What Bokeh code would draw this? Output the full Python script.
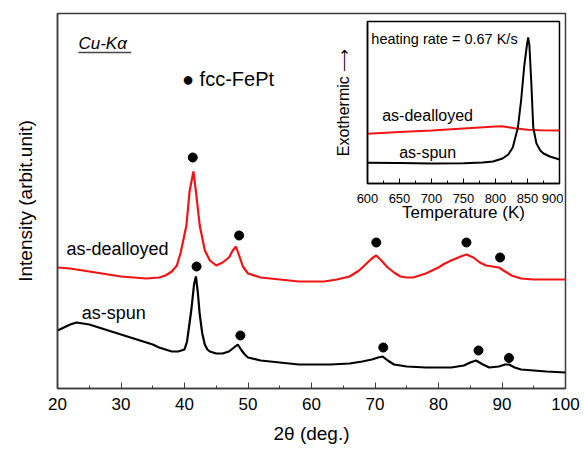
from bokeh.plotting import figure
from bokeh.models import Range1d, Label, SingleIntervalTicker, FixedTicker
from bokeh.layouts import column
from bokeh.embed import file_html
from bokeh.resources import INLINE

FONT = "Liberation Sans"

# ---- XRD data (main panel), intensity in arbitrary units ----
two_theta_spun = [20, 21, 22, 23, 24, 25, 26, 27, 28, 29, 30, 31, 32, 33, 34, 35, 36, 37, 38, 39,
                  40, 40.4, 40.7, 41.1, 41.5, 41.8, 42.1, 42.4, 42.8, 43.2, 43.6, 44, 45, 46, 47,
                  47.8, 48.4, 49, 49.5, 50, 52, 55, 58, 60, 63, 66, 68, 69.5, 70.5, 71.2, 72, 73,
                  75, 78, 80, 82, 84, 85, 85.9, 87, 88, 89.5, 90.5, 91.1, 92, 93, 95, 97, 100]
intensity_spun = [58, 61, 64, 66, 65, 64, 62, 60, 58, 56, 54, 52, 50, 48, 46, 44, 41, 39, 37, 37,
                  39, 47, 61, 80, 104, 112, 96, 74, 55, 44, 39, 37, 35, 35, 37,
                  41, 44, 38, 34, 31, 28, 26, 24, 24, 24, 25, 27, 29, 31, 32, 28, 24,
                  22, 21, 21, 21, 23, 26, 28, 24, 21, 22, 24, 24, 21, 19, 18, 17, 16]

two_theta_deal = [20, 22, 24, 26, 28, 30, 32, 34, 36, 37, 38, 38.8, 39.4, 40.3, 40.8, 41.4, 41.8,
                  42.4, 43.2, 44, 45, 46, 47, 47.6, 48.1, 48.6, 49.2, 50, 52, 55, 58, 60, 62, 64,
                  66, 67.5, 68.5, 69.5, 70.2, 71, 72, 73, 74, 75, 76, 77, 78, 79, 80, 81, 82, 83.5,
                  84.4, 85.5, 86.5, 87.5, 88.5, 89.5, 90.5, 91.5, 93, 95, 100]
intensity_deal = [121, 120, 118, 116, 114, 112, 111, 110, 111, 113, 117, 123, 136, 163, 197, 217, 197,
                  163, 138, 128, 123, 126, 131, 138, 142, 133, 122, 115, 111, 109, 107, 107, 107, 109,
                  112, 118, 124, 130, 133, 128, 121, 116, 112, 111, 111, 113, 115, 118, 121, 125, 128, 132,
                  134, 131, 126, 123, 122, 121, 117, 113, 110, 109, 109]

peaks_deal_x = [41.3, 48.6, 70.2, 84.4, 89.7]
peaks_deal_y = [231, 153, 146, 146, 131]
peaks_spun_x = [41.9, 48.8, 71.3, 86.3, 91.1]
peaks_spun_y = [122, 53, 41, 38, 30.5]

# ---- DSC data (inset) ----
temp_spun = [600, 650, 700, 750, 780, 796, 811, 820, 827, 835, 840, 845, 849, 851, 853, 856, 859,
             864, 870, 875, 885, 900]
dsc_spun = [20.7, 20.5, 20, 20.3, 21, 22, 25, 29, 36, 56, 83, 118, 138, 146, 138, 100, 56,
            40, 33, 30, 27, 24]
temp_deal = [600, 650, 700, 750, 800, 810, 830, 850, 870, 900]
dsc_deal = [49.7, 51.5, 53, 55, 57, 57.3, 55.3, 53.7, 53.3, 53]

RED = "#f01414"

# ================= main figure =================
p = figure(frame_width=508, frame_height=375, x_range=Range1d(20, 100), y_range=Range1d(0, 375),
           output_backend="svg", toolbar_location=None,
           min_border_left=57, min_border_right=19, min_border_top=13, min_border_bottom=62)
p.grid.visible = False
p.background_fill_color = "white"
p.border_fill_color = "white"
p.outline_line_color = "#3c3c3c"
p.outline_line_width = 1.5

xa = p.xaxis[0]
xa.ticker = SingleIntervalTicker(interval=10, num_minor_ticks=2)
xa.major_tick_in = 6
xa.major_tick_out = 0
xa.minor_tick_in = 3
xa.minor_tick_out = 0
xa.axis_line_color = "#3c3c3c"
xa.axis_line_width = 1.5
xa.major_tick_line_color = "#3c3c3c"
xa.minor_tick_line_color = "#3c3c3c"
xa.major_label_text_font = FONT
xa.major_label_text_font_size = "17px"
xa.major_label_text_color = "black"
xa.major_label_standoff = 9
xa.axis_label = "2θ (deg.)"
xa.axis_label_text_font = FONT
xa.axis_label_text_font_size = "19px"
xa.axis_label_text_font_style = "normal"
xa.axis_label_text_color = "black"
xa.axis_label_standoff = 10

ya = p.yaxis[0]
ya.ticker = FixedTicker(ticks=[])
ya.major_label_text_font_size = "0px"
ya.major_label_standoff = 0
ya.major_tick_in = 0
ya.major_tick_out = 0
ya.minor_tick_in = 0
ya.minor_tick_out = 0
ya.axis_line_color = "#3c3c3c"
ya.axis_line_width = 1.5
ya.axis_label = "Intensity (arbit.unit)"
ya.axis_label_text_font = FONT
ya.axis_label_text_font_size = "19px"
ya.axis_label_text_font_style = "normal"
ya.axis_label_text_color = "black"
ya.axis_label_standoff = 22

p.line(two_theta_deal, intensity_deal, line_color=RED, line_width=2.2)
p.line(two_theta_spun, intensity_spun, line_color="black", line_width=2.2)
p.scatter(peaks_deal_x, peaks_deal_y, size=9, color="black")
p.scatter(peaks_spun_x, peaks_spun_y, size=9, color="black")

def lab(fig, x, y, text, size, style="normal", align="left"):
    fig.add_layout(Label(x=x, y=y, text=text, text_font=FONT, text_font_size=size,
                         text_font_style=style, text_baseline="middle", text_align=align,
                         text_color="black"))

lab(p, 21.4, 140, "as-dealloyed", "18px")
lab(p, 23.8, 76, "as-spun", "18px")
lab(p, 23.3, 345, "Cu-Kα", "17px", style="italic")
p.segment(x0=[23.3], y0=[336], x1=[31.6], y1=[336], line_color="#444444", line_width=1.5)
lab(p, 39.6, 310, "● fcc-FePt", "20px")

# ================= inset =================
q = figure(frame_width=192, frame_height=162, x_range=Range1d(600, 900), y_range=Range1d(0, 162),
           output_backend="svg", toolbar_location=None,
           min_border_left=41, min_border_right=20, min_border_top=21, min_border_bottom=47,
           margin=(-450, 0, 0, 310))
q.grid.visible = False
q.background_fill_color = "white"
q.border_fill_color = None
q.outline_line_color = "black"
q.outline_line_width = 1.5

qx = q.xaxis[0]
qx.ticker = SingleIntervalTicker(interval=50, num_minor_ticks=2)
qx.major_tick_in = 5
qx.major_tick_out = 0
qx.minor_tick_in = 3
qx.minor_tick_out = 0
qx.axis_line_width = 1.5
qx.major_label_text_font = FONT
qx.major_label_text_font_size = "13px"
qx.major_label_text_color = "black"
qx.major_label_standoff = 10
qx.axis_label = "Temperature (K)"
qx.axis_label_text_font = FONT
qx.axis_label_text_font_size = "17px"
qx.axis_label_text_font_style = "normal"
qx.axis_label_text_color = "black"
qx.axis_label_standoff = -3

qy = q.yaxis[0]
qy.ticker = FixedTicker(ticks=[])
qy.major_label_text_font_size = "0px"
qy.major_label_standoff = 0
qy.major_tick_in = 0
qy.major_tick_out = 0
qy.minor_tick_in = 0
qy.minor_tick_out = 0
qy.axis_line_width = 1.5
qy.axis_label = "Exothermic ⟶"
qy.axis_label_text_font = FONT
qy.axis_label_text_font_size = "16px"
qy.axis_label_text_font_style = "normal"
qy.axis_label_text_color = "black"
qy.axis_label_standoff = 16

q.line(temp_deal, dsc_deal, line_color=RED, line_width=2)
q.line(temp_spun, dsc_spun, line_color="black", line_width=2)

lab(q, 606, 145, "heating rate = 0.67 K/s", "14.5px")
lab(q, 623, 68, "as-dealloyed", "16px")
lab(q, 649.5, 31, "as-spun", "16px")

layout = column(p, q)
open("out.html", "w").write(file_html(layout, INLINE))
